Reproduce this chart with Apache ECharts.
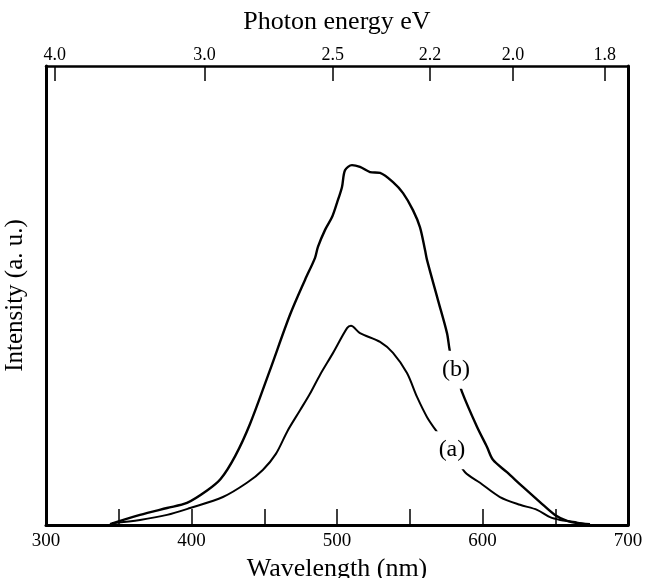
<!DOCTYPE html>
<html>
<head>
<meta charset="utf-8">
<script src="https://cdn.jsdelivr.net/npm/echarts@6/dist/echarts.min.js"></script>
<style>html,body{margin:0;padding:0;background:#fff;}#c{width:645px;height:578px;}</style>
</head>
<body>
<div id="c"></div>
<script>
// Wavelength (nm) samples and intensities (a.u., 0-100 = full box height)
const wavelengthB = [344.0,364.6,383.2,396.9,410.7,420.0,430.0,440.2,454.0,467.7,478.0,484.9,486.9,491.8,496.6,500.0,503.4,505.5,510.3,515.8,522.7,529.6,538.5,545.4,552.2,557.0,560.5,561.9,569.4,575.6,577.7,581.8,585.9,596.2,603.1,607.2,616.8,627.8,639.5,649.8,658.1,664.9,673.9];
const intensityB  = [0.2,2.2,3.7,4.8,7.5,10.0,15.0,22.0,33.8,45.8,53.4,58.2,60.6,64.3,67.1,70.2,73.6,77.3,78.4,78.0,76.9,76.7,74.7,72.3,68.6,64.9,59.9,57.7,49.0,41.8,37.7,33.3,29.0,21.4,17.0,14.2,11.5,8.3,5.0,2.2,0.9,0.4,0.2];
const wavelengthA = [345.4,364.6,383.2,399.0,421.6,438.1,449.0,458.0,466.0,474.6,481.4,488.3,497.3,506.9,509.6,515.8,529.6,538.5,548.1,555.0,561.9,568.7,579.0,588.0,598.3,612.0,625.8,637.5,646.4,653.3,662.2,670.4];
const intensityA  = [0.4,1.1,2.2,3.7,6.1,9.2,12.0,15.5,20.5,25.0,28.6,32.7,37.5,42.9,43.4,41.8,39.9,37.5,33.1,27.9,23.5,20.3,15.9,11.5,9.2,6.1,4.4,3.3,1.7,1.1,0.7,0.2];
// Axis ticks
const xLabelValues = [300,400,500,600,700];
const xTickValues = [350,400,450,500,550,600,650];
const energyLabels = ['4.0','3.0','2.5','2.2','2.0','1.8'];
const energyTickNm = [306,409,497,564,621,684];
// Curve labels: [wavelength, intensity, text]
const labelB = [581.8, 33.8, '(b)'];
const labelA = [579.0, 16.3, '(a)'];

const FONT = "'Liberation Serif','Times New Roman',serif";
const zip = (xs, ys) => xs.map((x,i)=>[x, ys[i]]);
const curveLabel = (l) => ({
  coord:[l[0], l[1]], value:l[2], symbol:'rect', symbolSize:[34,38],
  itemStyle:{color:'#fff'},
  label:{show:true,position:'inside',formatter:l[2],fontFamily:FONT,fontSize:24,color:'#000'}
});

const chart = echarts.init(document.getElementById('c'), null, {renderer:'canvas'});
chart.setOption({
  animation:false,
  backgroundColor:'#fff',
  grid:{left:46,right:17,top:66,bottom:53,containLabel:false,outerBoundsMode:'none'},
  xAxis:[{
    type:'value',position:'bottom',min:300,max:700,interval:50,
    name:'Wavelength (nm)',nameLocation:'middle',nameGap:27,
    nameTextStyle:{fontFamily:FONT,fontSize:26,color:'#000'},
    axisLine:{show:true,onZero:false,lineStyle:{color:'#000',width:3}},
    axisTick:{show:true,inside:true,length:16,customValues:xTickValues,lineStyle:{color:'#000',width:1.5}},
    axisLabel:{show:true,customValues:xLabelValues,margin:7,fontFamily:FONT,fontSize:19,color:'#000'},
    splitLine:{show:false}
  },{
    type:'value',position:'top',min:300,max:700,
    name:'Photon energy eV',nameLocation:'middle',nameGap:31,
    nameTextStyle:{fontFamily:FONT,fontSize:26,color:'#000'},
    axisLine:{show:true,onZero:false,lineStyle:{color:'#000',width:2.5}},
    axisTick:{show:true,inside:true,length:15,customValues:energyTickNm,lineStyle:{color:'#000',width:1.5}},
    axisLabel:{show:true,customValues:energyTickNm,margin:2,fontFamily:FONT,fontSize:18,color:'#000',
      formatter:(v)=>{const i=energyTickNm.indexOf(v);return i>=0?energyLabels[i]:'';}},
    splitLine:{show:false}
  }],
  yAxis:[{
    type:'value',position:'left',min:0,max:100,
    name:'Intensity (a. u.)',nameLocation:'middle',nameGap:18,nameRotate:90,
    nameTextStyle:{fontFamily:FONT,fontSize:25,color:'#000'},
    axisLine:{show:true,onZero:false,lineStyle:{color:'#000',width:3}},
    axisTick:{show:false},axisLabel:{show:false},splitLine:{show:false}
  },{
    type:'value',position:'right',min:0,max:100,
    axisLine:{show:true,onZero:false,lineStyle:{color:'#000',width:3}},
    axisTick:{show:false},axisLabel:{show:false},splitLine:{show:false}
  }],
  series:[{
    type:'line',name:'b',data:zip(wavelengthB,intensityB),smooth:0.3,symbol:'none',
    lineStyle:{color:'#000',width:2.4},z:2,
    markPoint:{silent:true,animation:false,data:[curveLabel(labelB),curveLabel(labelA)]}
  },{
    type:'line',name:'a',data:zip(wavelengthA,intensityA),smooth:0.3,symbol:'none',
    lineStyle:{color:'#000',width:2},z:1
  }]
});
</script>
</body>
</html>
